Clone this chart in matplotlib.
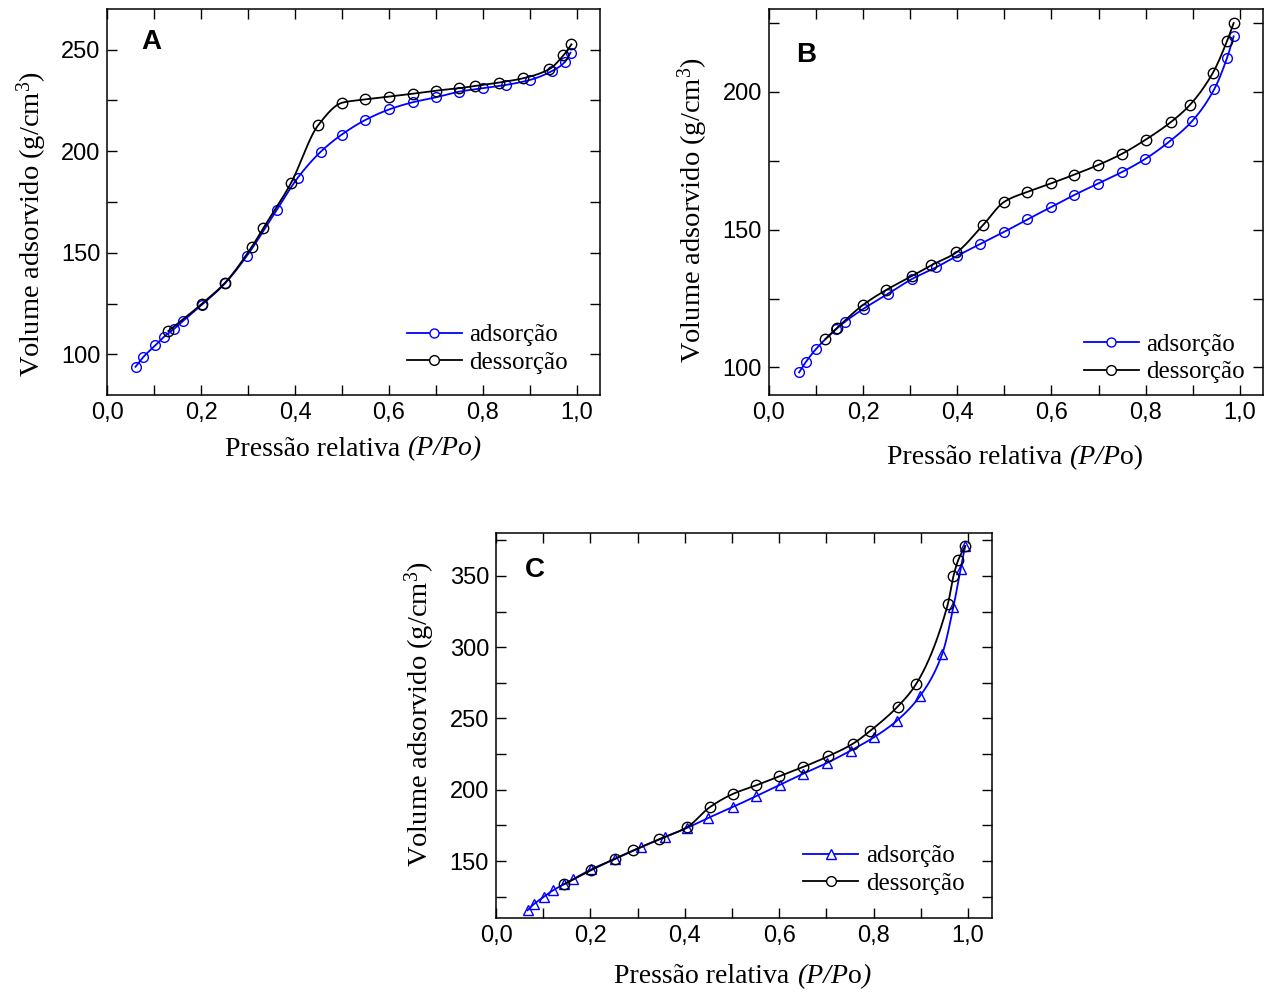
import numpy as np
import matplotlib
matplotlib.use('Agg')
from matplotlib import pyplot as plt
from matplotlib import rcParams
from matplotlib.ticker import MultipleLocator, FixedFormatter, FixedLocator

rcParams['font.family'] = 'Liberation Sans'
rcParams['mathtext.fontset'] = 'custom'
rcParams['mathtext.rm'] = 'Liberation Serif'
rcParams['mathtext.it'] = 'Liberation Serif:italic'

# Panel A
a_ads_x = [0.060, 0.077, 0.102, 0.121, 0.142, 0.162, 0.201, 0.251, 0.297, 0.361, 0.406, 0.455,
           0.499, 0.550, 0.601, 0.651, 0.700, 0.750, 0.800, 0.849, 0.901, 0.948, 0.975, 0.987]
a_ads_y = [93.9, 98.8, 104.4, 108.7, 112.5, 116.6, 124.3, 135.0, 148.4, 171.1, 187.0, 199.8,
           208.1, 215.4, 220.6, 224.1, 226.5, 229.3, 231.0, 232.6, 235.1, 239.5, 243.9, 248.5]
a_des_x = [0.130, 0.201, 0.251, 0.308, 0.332, 0.391, 0.449, 0.501, 0.550, 0.601, 0.651, 0.700,
           0.750, 0.783, 0.835, 0.886, 0.941, 0.972, 0.989]
a_des_y = [111.5, 124.8, 135.3, 153.0, 162.0, 184.2, 212.7, 223.9, 225.5, 226.9, 228.3, 229.8,
           231.0, 232.1, 233.8, 235.9, 240.3, 247.2, 252.6]

# Panel B
b_ads_x = [0.064, 0.078, 0.100, 0.142, 0.161, 0.201, 0.253, 0.304, 0.355, 0.400, 0.448, 0.500,
           0.549, 0.600, 0.648, 0.699, 0.749, 0.799, 0.848, 0.898, 0.946, 0.973, 0.987]
b_ads_y = [98.2, 101.9, 106.7, 113.8, 116.5, 121.3, 126.7, 132.1, 136.3, 140.5, 144.7, 149.2,
           153.7, 158.2, 162.5, 166.7, 170.8, 175.6, 181.6, 189.2, 201.0, 212.3, 220.1]
b_des_x = [0.120, 0.145, 0.200, 0.249, 0.304, 0.345, 0.398, 0.455, 0.500, 0.549, 0.600, 0.648,
           0.699, 0.749, 0.800, 0.853, 0.894, 0.943, 0.973, 0.987]
b_des_y = [110.3, 114.4, 122.7, 128.1, 133.2, 137.1, 141.7, 151.7, 160.1, 163.7, 166.8, 169.9,
           173.4, 177.4, 182.6, 188.9, 195.2, 206.9, 218.4, 224.9]

# Panel C
c_ads_x = [0.067, 0.080, 0.101, 0.121, 0.144, 0.163, 0.202, 0.253, 0.308, 0.359, 0.405, 0.450,
           0.501, 0.551, 0.602, 0.651, 0.701, 0.751, 0.800, 0.849, 0.899, 0.945, 0.969, 0.984, 0.994]
c_ads_y = [115.5, 119.7, 124.8, 129.5, 133.7, 137.2, 144.2, 151.6, 159.8, 167.0, 173.3, 180.3,
           187.8, 195.5, 203.6, 211.3, 218.8, 227.4, 236.7, 248.4, 266.1, 295.0, 328.3, 354.7, 371.0]
c_des_x = [0.144, 0.202, 0.252, 0.291, 0.345, 0.405, 0.453, 0.502, 0.551, 0.600, 0.651, 0.703,
           0.756, 0.793, 0.851, 0.890, 0.957, 0.969, 0.979, 0.994]
c_des_y = [133.7, 143.7, 151.6, 157.5, 165.2, 173.8, 187.8, 197.1, 203.1, 209.4, 216.0, 223.4,
           232.3, 241.4, 258.4, 274.2, 330.0, 349.8, 361.0, 371.0]

x_ticks = [0.0, 0.2, 0.4, 0.6, 0.8, 1.0]
x_tick_labels = ['0,0', '0,2', '0,4', '0,6', '0,8', '1,0']

legend_labels = ['adsorção', 'dessorção']
ylabel = r'Volume adsorvido (g/cm$^3$)'

# x label pieces: (text, italic?)
xlabel_a = [('Pressão relativa ', False), ('(P/Po)', True)]
xlabel_b = [('Pressão relativa ', False), ('(P/P', True), ('o)', False)]
xlabel_c = [('Pressão relativa ', False), ('(P/P', True), ('o', False), (')', True)]


def pchip(x, y, n=400):
    # smooth curve through the points (shape preserving)
    x = np.asarray(x, float)
    y = np.asarray(y, float)
    h = np.diff(x)
    d = np.diff(y) / h
    m = np.zeros_like(y)
    m[0], m[-1] = d[0], d[-1]
    for k in range(1, len(x) - 1):
        if d[k - 1] * d[k] > 0:
            w1 = 2 * h[k] + h[k - 1]
            w2 = h[k] + 2 * h[k - 1]
            m[k] = (w1 + w2) / (w1 / d[k - 1] + w2 / d[k])
    xs = np.linspace(x[0], x[-1], n)
    i = np.clip(np.searchsorted(x, xs) - 1, 0, len(x) - 2)
    t = (xs - x[i]) / h[i]
    h00 = 2 * t**3 - 3 * t**2 + 1
    h10 = t**3 - 2 * t**2 + t
    h01 = -2 * t**3 + 3 * t**2
    h11 = t**3 - t**2
    ys = h00 * y[i] + h10 * h[i] * m[i] + h01 * y[i + 1] + h11 * h[i] * m[i + 1]
    return xs, ys


fig = plt.figure(figsize=(12.66, 9.97), dpi=100)

panels = [
    ('A', [0.0848, 0.6038, 0.3892, 0.3872], (80, 270), a_ads_x, a_ads_y, a_des_x, a_des_y, 'o',
     xlabel_a, -0.14, (-0.118, 0.442), (0.09, 0.915), (0.935, 0.055)),
    ('B', [0.6074, 0.6038, 0.3905, 0.3872], (90, 230), b_ads_x, b_ads_y, b_des_x, b_des_y, 'o',
     xlabel_b, -0.161, (-0.12, 0.479), (0.075, 0.88), (0.963, 0.03)),
    ('C', [0.3918, 0.0792, 0.3915, 0.3860], (110, 380), c_ads_x, c_ads_y, c_des_x, c_des_y, '^',
     xlabel_c, -0.153, (-0.12, 0.53), (0.079, 0.904), (0.945, 0.06)),
]

for (letter, rect, ylim, ax_x, ax_y, dx, dy, amark, xl_parts, xl_y, yl_pos, lpos, legpos) in panels:
    ax = fig.add_axes(rect)
    sx, sy = pchip(ax_x, ax_y)
    ax.plot(sx, sy, color='#0000ff', lw=1.3, zorder=2)
    sx, sy = pchip(dx, dy)
    ax.plot(sx, sy, color='black', lw=1.3, zorder=3)
    ax.plot(ax_x, ax_y, ls='none', marker=amark, ms=7, mfc='none', mec='#0000ff', mew=1.0, zorder=2)
    ax.plot(dx, dy, ls='none', marker='o', ms=7.5, mfc='none', mec='black', mew=1.0, zorder=3)

    # legend proxies: line - marker - line
    h1, = ax.plot([], [], color='#0000ff', lw=1.3, marker=amark, ms=6.5, mfc='white', mec='#0000ff', mew=1.0)
    h2, = ax.plot([], [], color='black', lw=1.3, marker='o', ms=7, mfc='white', mec='black', mew=1.0)
    ax.legend([h1, h2], legend_labels, loc='lower right', bbox_to_anchor=legpos, frameon=False,
              prop={'family': 'Liberation Serif', 'size': 18}, handlelength=2.2, handletextpad=0.3,
              borderpad=0, borderaxespad=0, labelspacing=0.2)

    ax.set_xlim(0, 1.05)
    ax.set_ylim(*ylim)
    ax.xaxis.set_major_locator(FixedLocator(x_ticks))
    ax.xaxis.set_major_formatter(FixedFormatter(x_tick_labels))
    ax.xaxis.set_minor_locator(MultipleLocator(0.1))
    ax.yaxis.set_major_locator(MultipleLocator(50))
    ax.yaxis.set_minor_locator(MultipleLocator(25))
    ax.tick_params(which='both', direction='in', top=True, right=True, length=7, width=1.0)
    ax.tick_params(which='major', labelsize=17, pad=5)
    for s in ax.spines.values():
        s.set_linewidth(1.1)

    # x label built from pieces so that only part of it is italic
    prev = ax.text(0.239, xl_y, xl_parts[0][0], transform=ax.transAxes, ha='left', va='center',
                   family='Liberation Serif', fontsize=20)
    for txt, ital in xl_parts[1:]:
        prev = ax.annotate(txt, xy=(1, 0), xycoords=prev, ha='left', va='bottom',
                           family='Liberation Serif', fontsize=20,
                           style='italic' if ital else 'normal')

    ax.set_ylabel(ylabel, family='Liberation Serif', fontsize=20.5)
    ax.yaxis.set_label_coords(*yl_pos)
    ax.text(lpos[0], lpos[1], letter, transform=ax.transAxes, ha='center', va='center',
            fontsize=20, fontweight='bold')

fig.savefig('out.png', dpi=100)
